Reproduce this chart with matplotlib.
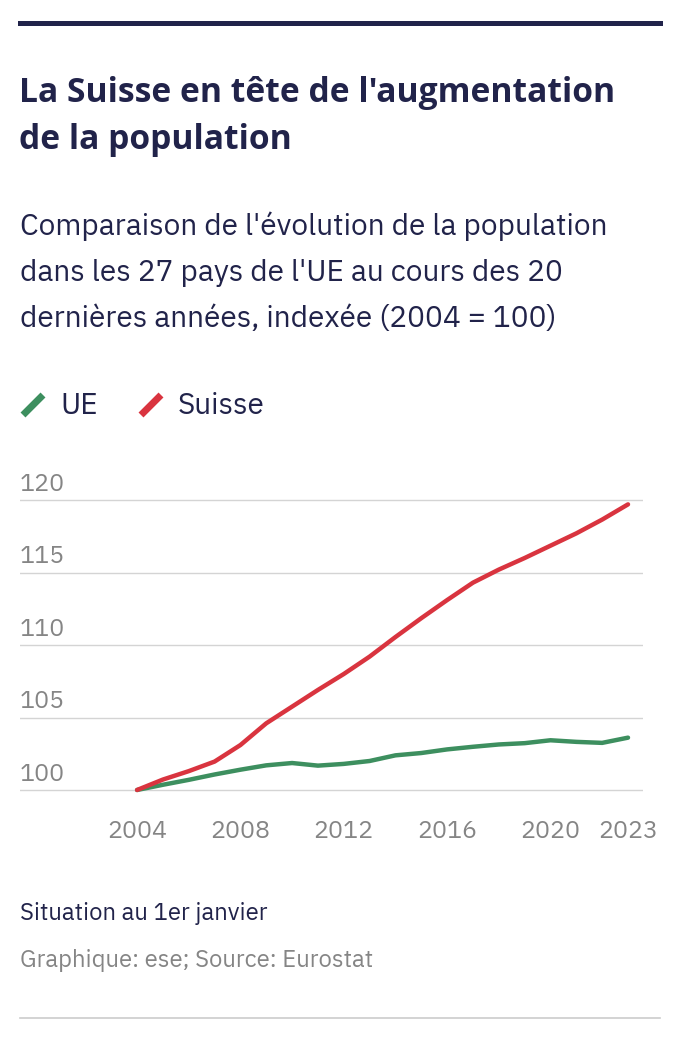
import matplotlib
matplotlib.use("Agg")
import matplotlib.pyplot as plt
from matplotlib.lines import Line2D
from matplotlib.transforms import blended_transform_factory

# ── data ─────────────────────────────────────────────────────────────────────

YEARS = list(range(2004, 2024))
EU = [100.0, 100.36, 100.7, 101.07, 101.4, 101.7, 101.86, 101.68, 101.8, 102.0,
      102.39, 102.55, 102.8, 102.98, 103.14, 103.23, 103.43, 103.32, 103.25, 103.61]
CH = [100.0, 100.72, 101.3, 101.96, 103.1, 104.6, 105.75, 106.9, 108.0, 109.2,
      110.55, 111.85, 113.1, 114.3, 115.2, 116.0, 116.85, 117.7, 118.65, 119.7]
XTICKS = [2004, 2008, 2012, 2016, 2020, 2023]
YTICKS = [100, 105, 110, 115, 120]

NAVY = "#21234a"
GRAY = "#858585"
GREEN = "#3d8f5f"
RED = "#d9343f"
FONT = ["IBM Plex Sans", "Noto Sans", "DejaVu Sans"]
BOLD = ["Open Sans", "Liberation Sans", "DejaVu Sans"]
plt.rcParams["font.family"] = FONT

W, H = 680, 1040
fig = plt.figure(figsize=(W / 100, H / 100), dpi=100)


def fy(px):
    return 1 - px / H


def fx(px):
    return px / W


# top bar and bottom rule
fig.add_artist(Line2D([fx(20), fx(660)], [fy(22.5), fy(22.5)], color=NAVY, lw=3.6))
fig.add_artist(Line2D([fx(20), fx(660)], [fy(1018), fy(1018)], color="#cccccc", lw=1.2))

# title + subtitle
fig.text(fx(19), fy(102), "La Suisse en tête de l'augmentation", fontsize=24.2,
         fontweight="bold", family=BOLD, color=NAVY, va="baseline")
fig.text(fx(19), fy(149), "de la population", fontsize=24.2,
         fontweight="bold", family=BOLD, color=NAVY, va="baseline")
sub = ["Comparaison de l'évolution de la population",
       "dans les 27 pays de l'UE au cours des 20",
       "dernières années, indexée (2004 = 100)"]
for i, line in enumerate(sub):
    fig.text(fx(20), fy(235 + i * 46), line, fontsize=21.5, color=NAVY, va="baseline")

# legend
for x0, col, lab in [(20, GREEN, "UE"), (138, RED, "Suisse")]:
    fig.add_artist(Line2D([fx(x0 + 3), fx(x0 + 23)], [fy(415), fy(395)], color=col,
                          lw=5, solid_capstyle="butt"))
    fig.text(fx(x0 + 40), fy(406), lab, fontsize=21.5, color=NAVY, va="center")

# ── chart ─────────────────────────────────────────────────────────────────────

ax = fig.add_axes([fx(20), fy(800), fx(623), (800 - 470) / H])
ax.plot(YEARS, EU, color=GREEN, lw=3.2, solid_capstyle="round", zorder=3)
ax.plot(YEARS, CH, color=RED, lw=3.2, solid_capstyle="round", zorder=3)

ax.set_xlim(1999.47, 2023.58)
ax.set_ylim(99.31, 122.07)
for s in ax.spines.values():
    s.set_visible(False)

ax.set_yticks(YTICKS)
ax.yaxis.grid(True, color="#d4d4d4", lw=1)
ax.tick_params(axis="y", left=False, labelleft=False)
trans = blended_transform_factory(ax.transAxes, ax.transData)
for v in YTICKS:
    ax.annotate(str(v), (0, v), xycoords=trans, xytext=(0, 11.5), textcoords="offset points",
                fontsize=18, color=GRAY, va="center", ha="left")

ax.set_xticks(XTICKS)
ax.set_xticklabels([str(x) for x in XTICKS])
ax.tick_params(axis="x", bottom=False, pad=11, labelsize=18, labelcolor=GRAY)

# notes
fig.text(fx(20), fy(920), "Situation au 1er janvier", fontsize=17.2, color=NAVY, va="baseline")
fig.text(fx(20), fy(967), "Graphique: ese; Source: Eurostat", fontsize=17.2, color=GRAY,
         va="baseline")

fig.savefig("out.png", dpi=100)
